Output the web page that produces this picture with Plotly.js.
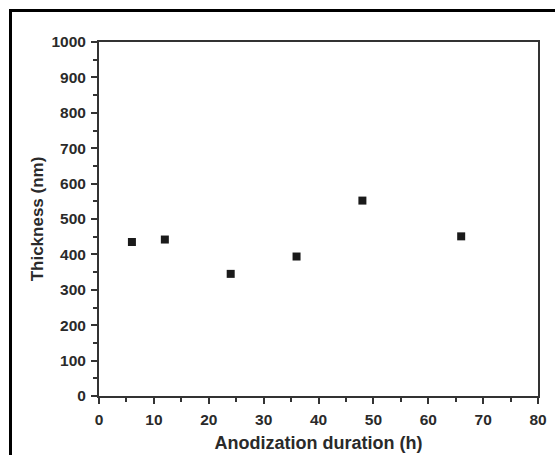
<!DOCTYPE html>
<html>
<head>
<meta charset="utf-8">
<script src="https://cdn.plot.ly/plotly-3.0.1.min.js"></script>
<style>
html,body{margin:0;padding:0;background:#fff;}
#wrap{position:relative;width:555px;height:455px;overflow:hidden;}
#chart{width:555px;height:455px;}
#frame{position:absolute;left:9px;top:9px;width:600px;height:500px;border-left:3px solid #000;border-top:3px solid #000;pointer-events:none;}
</style>
</head>
<body>
<div id="wrap"><div id="chart"></div><div id="frame"></div></div>
<script>
const durationH = [6, 12, 24, 36, 48, 66];
const thicknessNm = [435, 442, 345, 394, 552, 451];
const xTickVals = [0, 10, 20, 30, 40, 50, 60, 70, 80];
const yTickVals = [0, 100, 200, 300, 400, 500, 600, 700, 800, 900, 1000];
const xTitle = 'Anodization duration (h)';
const yTitle = 'Thickness (nm)';

const FONT = 'Liberation Sans, Arial, sans-serif';
const axisCommon = {
  showline: true, mirror: true, linecolor: '#333', linewidth: 2,
  ticks: 'outside', ticklen: 6, tickwidth: 2, tickcolor: '#333',
  showgrid: false, zeroline: false,
  tickfont: {family: FONT, size: 15.5, color: '#2a2a2a', weight: 700},
  ticklabelstandoff: 2,
  automargin: false
};

Plotly.newPlot('chart', [{
  x: durationH, y: thicknessNm, type: 'scatter', mode: 'markers',
  marker: {symbol: 'square', size: 8, color: '#1a1a1a'}
}], {
  width: 555, height: 455,
  margin: {l: 99, r: 17, t: 42, b: 59},
  paper_bgcolor: '#fff', plot_bgcolor: '#fff',
  showlegend: false,
  xaxis: Object.assign({}, axisCommon, {
    range: [0, 80], tickmode: 'array', tickvals: xTickVals,
    ticktext: xTickVals.map(v => '<b>' + v + '</b>'),
    minor: {ticks: 'outside', ticklen: 4, tickwidth: 2, tickcolor: '#333', dtick: 5, tick0: 0},
    title: {text: '<b>' + xTitle + '</b>', font: {family: FONT, size: 18, color: '#2a2a2a'}, standoff: 10}
  }),
  yaxis: Object.assign({}, axisCommon, {
    range: [0, 1000], tickmode: 'array', tickvals: yTickVals,
    ticktext: yTickVals.map(v => '<b>' + v + '</b>'),
    minor: {ticks: 'outside', ticklen: 4, tickwidth: 2, tickcolor: '#333', dtick: 50, tick0: 0},
    title: {text: '<b>' + yTitle + '</b>', font: {family: FONT, size: 17, color: '#2a2a2a'}, standoff: 3}
  })
}, {displayModeBar: false, staticPlot: true});
</script>
</body>
</html>
